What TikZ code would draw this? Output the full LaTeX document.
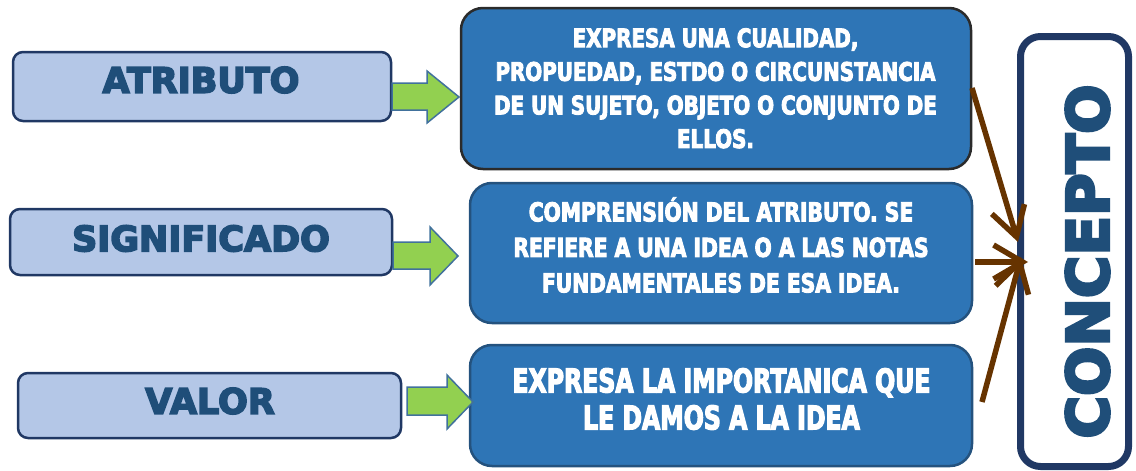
\documentclass[tikz,border=0pt]{standalone}
\usepackage{fontspec}
\setmainfont{DejaVu Sans}
\newfontfamily\heavy{DejaVu Sans}[UprightFont=* Bold, FakeBold=4.5]
\newfontfamily\heavier{DejaVu Sans}[UprightFont=* Bold, FakeBold=5]
\newfontfamily\condA{DejaVu Sans}[UprightFont=* Bold, FakeStretch=0.78, FakeBold=3.5]
\newfontfamily\condB{DejaVu Sans}[UprightFont=* Bold, FakeStretch=0.72, FakeBold=3.5]
\usetikzlibrary{arrows.meta}
\definecolor{lightfill}{HTML}{B4C7E7}
\definecolor{navyline}{HTML}{203864}
\definecolor{darktext}{HTML}{1F4E79}
\definecolor{boxfill}{HTML}{2E75B6}
\definecolor{boxlineA}{HTML}{2B2B2B}
\definecolor{boxlineB}{HTML}{24527E}
\definecolor{greenfill}{HTML}{92D050}
\definecolor{greenline}{HTML}{41719C}
\definecolor{brownline}{HTML}{663300}
\begin{document}
\begin{tikzpicture}[x=1pt,y=-1pt,
  leftbox/.style={draw=navyline, fill=lightfill, line width=2.5pt, rounded corners=10pt, inner sep=0pt},
  lefttext/.style={text=darktext, inner sep=0pt, font=\heavy\fontsize{35}{40}\selectfont},
  rightbox/.style={fill=boxfill, line width=2.5pt, rounded corners=22pt, inner sep=0pt},
  righttext/.style={text=white, inner sep=0pt, align=center},
  greenarrow/.style={fill=greenfill, draw=greenline, line width=1.5pt, line join=miter},
  brownarrow/.style={draw=brownline, line width=5.5pt, -{Straight Barb[length=29pt,width=34pt]}}
]
\useasboundingbox (0,0) rectangle (1136,471);

% left boxes
\node[leftbox, minimum width=378pt, minimum height=69pt] (atr) at (202,86.5) {};
\node[leftbox, minimum width=382pt, minimum height=66pt] (sig) at (201,242) {};
\node[leftbox, minimum width=383pt, minimum height=65pt] (val) at (209.5,405.5) {};
\node[lefttext] (atrt) at (201,80) {ATRIBUTO};
\node[lefttext] (sigt) at (201,238.5) {SIGNIFICADO};
\node[lefttext] (valt) at (210,401) {VALOR};

% right boxes
\node[rightbox, draw=boxlineA, minimum width=510pt, minimum height=161pt] (b1) at (716,88.5) {};
\node[rightbox, draw=boxlineB, minimum width=502pt, minimum height=140pt] (b2) at (721,253) {};
\node[rightbox, draw=boxlineB, minimum width=502pt, minimum height=121pt] (b3) at (721,405.5) {};
\node[righttext, font=\condA\fontsize{25.5}{33.6}\selectfont] (t1) at (715.5,88.3)
  {EXPRESA UNA CUALIDAD,\\PROPUEDAD, ESTDO O CIRCUNSTANCIA\\DE UN SUJETO, OBJETO O CONJUNTO DE\\ELLOS.};
\node[righttext, font=\condA\fontsize{26}{35.5}\selectfont] (t2) at (721,245)
  {COMPRENSIÓN DEL ATRIBUTO. SE\\REFIERE A UNA IDEA O A LAS NOTAS\\FUNDAMENTALES DE ESA IDEA.};
\node[righttext, font=\condB\fontsize{32.8}{37}\selectfont] (t3) at (721.5,399)
  {EXPRESA LA IMPORTANICA QUE\\LE DAMOS A LA IDEA};

% concept box
\node[draw=navyline, fill=white, line width=7pt, rounded corners=20pt, minimum width=108pt, minimum height=430pt, inner sep=0pt] (con) at (1074.5,251.5) {};
\node[text=darktext, inner sep=0pt, rotate=90, font=\heavier\fontsize{58}{60}\selectfont] (cont) at (1087.5,261.5) {CONCEPTO};

% green block arrows
\draw[greenarrow] (392,83) -- (427,83) -- (427,71) -- (459,97) -- (427,123) -- (427,110) -- (392,110) -- cycle;
\draw[greenarrow] (393,242) -- (430,242) -- (430,227) -- (458,256) -- (430,285) -- (430,269) -- (393,269) -- cycle;
\draw[greenarrow] (407,387) -- (447,387) -- (447,375) -- (473,402) -- (447,429) -- (447,415) -- (407,415) -- cycle;

% brown arrows
\coordinate (s1) at (972,88);
\coordinate (e1) at (1018,242);
\coordinate (s2) at (975,262);
\coordinate (e2) at (1028,262);
\coordinate (s3) at (982,402);
\coordinate (e3) at (1021,257);
\draw[brownarrow] (s1) -- (e1);
\draw[brownarrow] (s2) -- (e2);
\draw[brownarrow] (s3) -- (e3);
\end{tikzpicture}
\end{document}
